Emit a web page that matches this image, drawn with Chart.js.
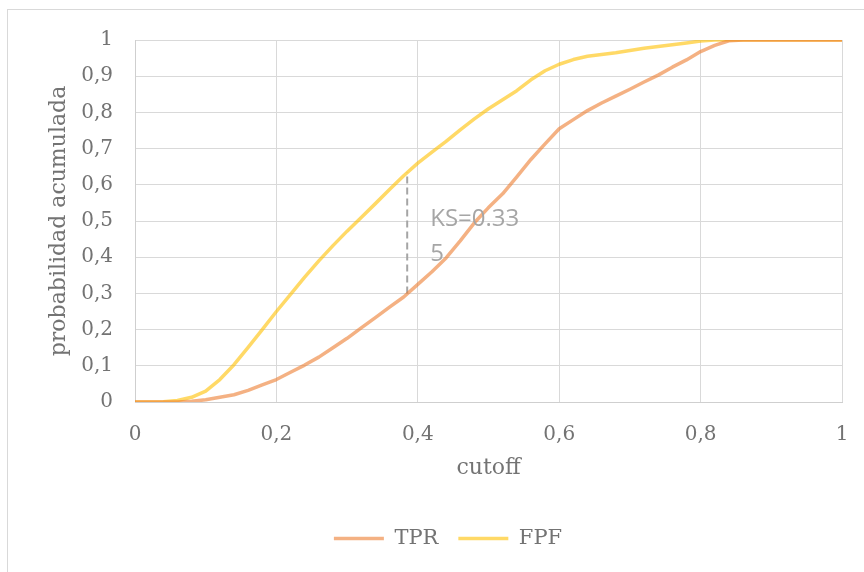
<!DOCTYPE html>
<html>
<head>
<meta charset="utf-8">
<script src="https://cdn.jsdelivr.net/npm/chart.js@4.4.1/dist/chart.umd.min.js"></script>
<style>
  html, body { margin: 0; padding: 0; background: #ffffff; overflow: hidden; }
  #wrap { position: relative; width: 864px; height: 572px; }
  #frame { position: absolute; left: 7px; top: 9px; width: 900px; height: 620px;
           border: 1px solid #d9d9d9; box-sizing: border-box; }
  canvas { position: absolute; left: 0; top: 0; }
</style>
</head>
<body>
<div id="wrap">
  <div id="frame"></div>
  <canvas id="chart" width="864" height="572"></canvas>
</div>
<script>
// Cutoff grid shared by both cumulative curves
const cutoffs = [
  0.00, 0.02, 0.04, 0.06, 0.08, 0.10, 0.12, 0.14, 0.16, 0.18,
  0.20, 0.22, 0.24, 0.26, 0.28, 0.30, 0.32, 0.34, 0.36, 0.38,
  0.40, 0.42, 0.44, 0.46, 0.48, 0.50, 0.52, 0.54, 0.56, 0.58,
  0.60, 0.62, 0.64, 0.66, 0.68, 0.70, 0.72, 0.74, 0.76, 0.78,
  0.80, 0.82, 0.84, 0.86, 0.88, 0.90, 0.92, 0.94, 0.96, 0.98, 1.00
];

// True positive rate (cumulative) at each cutoff
const tpr = [
  0, 0, 0, 0, 0.002, 0.006, 0.013, 0.02, 0.032, 0.047,
  0.062, 0.082, 0.102, 0.124, 0.15, 0.176, 0.205, 0.233, 0.262, 0.29,
  0.325, 0.36, 0.398, 0.445, 0.495, 0.537, 0.575, 0.622, 0.67, 0.713,
  0.755, 0.78, 0.805, 0.826, 0.845, 0.864, 0.884, 0.903, 0.925, 0.945,
  0.968, 0.985, 0.998, 1, 1, 1, 1, 1, 1, 1, 1
];

// False positive fraction (cumulative) at each cutoff
const fpf = [
  0, 0, 0.001, 0.004, 0.013, 0.03, 0.062, 0.103, 0.151, 0.2,
  0.25, 0.297, 0.345, 0.39, 0.432, 0.472, 0.51, 0.548, 0.587, 0.625,
  0.66, 0.69, 0.72, 0.752, 0.782, 0.81, 0.835, 0.86, 0.89, 0.915,
  0.933, 0.946, 0.955, 0.96, 0.965, 0.971, 0.977, 0.982, 0.987, 0.992,
  0.997, 1, 1, 1, 1, 1, 1, 1, 1, 1, 1
];

// Kolmogorov-Smirnov distance marker
const ksCutoff = 0.385;
const ksLow = 0.300;
const ksValue = 0.335;
const ksHigh = ksLow + ksValue;

// Axis tick labels (decimal comma)
const xTickLabels = ['0', '0,2', '0,4', '0,6', '0,8', '1'];
const yTickLabels = ['0', '0,1', '0,2', '0,3', '0,4', '0,5', '0,6', '0,7', '0,8', '0,9', '1'];

const tickFont = { family: 'DejaVu Serif', size: 20, weight: 'normal' };
const titleFont = { family: 'DejaVu Serif', size: 22, weight: 'normal' };
const legendFont = { family: 'DejaVu Serif', size: 21, weight: 'normal' };
const textColor = '#737373';
const gridColor = '#d9d9d9';

const toPoints = (ys) => cutoffs.map((c, i) => ({ x: c, y: ys[i] }));

// Nudge the bottom legend to the right of the default centred position
const legendShift = {
  id: 'legendShift',
  afterLayout(chart) {
    if (chart.legend) {
      chart.legend.left += 27;
      chart.legend.right += 27;
    }
  }
};

const ksMarker = {
  id: 'ksMarker',
  beforeDatasetsDraw(chart) {
    const { ctx, scales: { x, y } } = chart;
    const px = x.getPixelForValue(ksCutoff);
    ctx.save();
    ctx.strokeStyle = '#a5a5a5';
    ctx.lineWidth = 2;
    ctx.setLineDash([7, 4]);
    ctx.beginPath();
    ctx.moveTo(px, y.getPixelForValue(ksLow));
    ctx.lineTo(px, y.getPixelForValue(ksHigh));
    ctx.stroke();
    ctx.restore();
  },
  afterDatasetsDraw(chart) {
    const { ctx, scales: { x, y } } = chart;
    const px = x.getPixelForValue(ksCutoff);
    const mid = (y.getPixelForValue(ksLow) + y.getPixelForValue(ksHigh)) / 2;
    const label = 'KS=' + ksValue;
    ctx.save();
    ctx.fillStyle = '#a6a6a6';
    ctx.font = '24px "Open Sans"';
    ctx.textAlign = 'left';
    ctx.textBaseline = 'middle';
    ctx.fillText(label.slice(0, 7), px + 23, mid - 14);
    ctx.fillText(label.slice(7), px + 23, mid + 21.5);
    ctx.restore();
  }
};

new Chart(document.getElementById('chart'), {
  type: 'line',
  data: {
    datasets: [
      {
        label: 'TPR',
        data: toPoints(tpr),
        borderColor: 'rgba(237,125,49,0.6)',
        backgroundColor: 'rgba(237,125,49,0.6)',
        borderWidth: 3.5,
        borderCapStyle: 'round',
        borderJoinStyle: 'round',
        pointRadius: 0,
        tension: 0,
        fill: false
      },
      {
        label: 'FPF',
        data: toPoints(fpf),
        borderColor: 'rgba(255,192,0,0.6)',
        backgroundColor: 'rgba(255,192,0,0.6)',
        borderWidth: 3.5,
        borderCapStyle: 'round',
        borderJoinStyle: 'round',
        pointRadius: 0,
        tension: 0,
        fill: false
      }
    ]
  },
  options: {
    responsive: false,
    animation: false,
    layout: { padding: { top: 40, right: 22, bottom: 13, left: 0 } },
    plugins: {
      tooltip: { enabled: false },
      legend: {
        position: 'bottom',
        labels: {
          usePointStyle: true,
          pointStyle: 'line',
          pointStyleWidth: 50,
          padding: 20,
          font: legendFont,
          color: textColor
        }
      }
    },
    scales: {
      x: {
        type: 'linear',
        min: 0,
        max: 1,
        afterFit: (s) => { s.height = 106; s.paddingLeft = 0; s.paddingRight = 0; },
        ticks: {
          stepSize: 0.2,
          padding: 21,
          font: tickFont,
          color: textColor,
          callback: (v, i) => xTickLabels[i]
        },
        grid: { color: gridColor, lineWidth: 1, drawTicks: false },
        border: { color: '#cfcfcf', width: 1 },
        title: {
          display: true,
          text: 'cutoff',
          font: titleFont,
          color: textColor,
          padding: { top: 0, bottom: 26.8 }
        }
      },
      y: {
        min: 0,
        max: 1,
        afterFit: (s) => { s.width = 135; },
        ticks: {
          stepSize: 0.1,
          padding: 22,
          font: tickFont,
          color: textColor,
          callback: (v, i) => yTickLabels[i]
        },
        grid: { color: gridColor, lineWidth: 1, drawTicks: false },
        border: { color: '#cfcfcf', width: 1 },
        title: {
          display: true,
          text: 'probabilidad acumulada',
          font: titleFont,
          color: textColor,
          padding: { top: 45.8, bottom: 0 }
        }
      }
    }
  },
  plugins: [legendShift, ksMarker]
});
</script>
</body>
</html>
